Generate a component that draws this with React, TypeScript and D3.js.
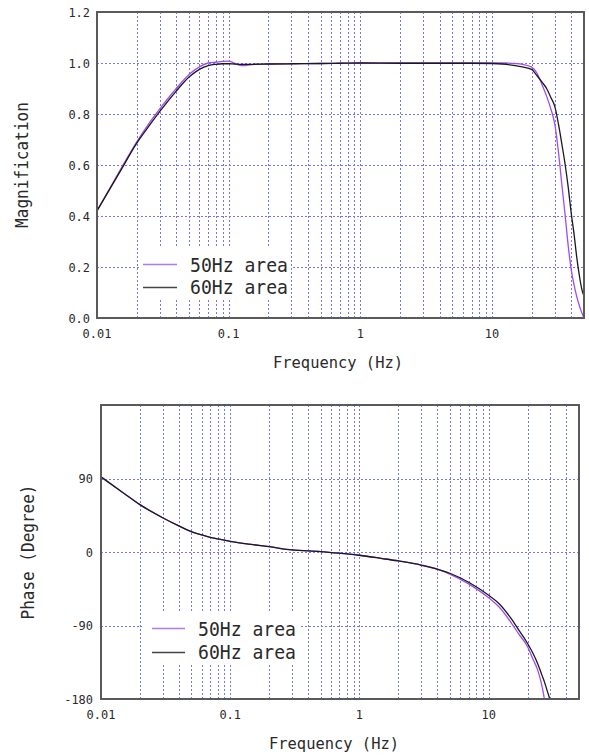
import React from "react";
import * as d3 from "d3";

const W = 589;
const H = 755;

// ---- Magnification chart data ----
const magFreq = [0.01, 0.015, 0.02, 0.025, 0.03, 0.04, 0.05, 0.06, 0.07, 0.08, 0.09, 0.1, 0.11, 0.12, 0.13, 0.15, 0.2, 0.3, 0.5, 0.7, 1, 2, 3, 5, 7, 10, 12, 15, 17, 20, 22, 24, 26, 28, 30, 32, 34, 36, 38, 40, 42, 44, 46, 48, 50];
const mag50 = [0.42, 0.58, 0.69, 0.765, 0.82, 0.9, 0.955, 0.985, 1.0, 1.003, 1.006, 1.007, 1.0, 0.992, 0.99, 0.994, 0.996, 0.997, 0.998, 0.999, 1.0, 1.0, 1.0, 1.0, 1.0, 1.0, 1.0, 0.998, 0.995, 0.984, 0.96, 0.915, 0.87, 0.82, 0.76, 0.65, 0.52, 0.4, 0.28, 0.19, 0.13, 0.085, 0.05, 0.022, 0.0];
const mag60 = [0.42, 0.575, 0.685, 0.755, 0.81, 0.89, 0.945, 0.975, 0.99, 0.995, 0.997, 0.997, 0.996, 0.995, 0.995, 0.995, 0.996, 0.997, 0.998, 0.999, 1.0, 0.999, 0.999, 0.999, 0.999, 0.998, 0.996, 0.99, 0.985, 0.975, 0.95, 0.925, 0.9, 0.865, 0.83, 0.76, 0.68, 0.6, 0.51, 0.41, 0.33, 0.24, 0.17, 0.115, 0.085];
const magTicks = [0, 0.2, 0.4, 0.6, 0.8, 1.0, 1.2];
const magTickLabels = ["0.0", "0.2", "0.4", "0.6", "0.8", "1.0", "1.2"];

// ---- Phase chart data ----
const phaseFreq = [0.01, 0.015, 0.02, 0.03, 0.04, 0.05, 0.06, 0.07, 0.08, 0.1, 0.15, 0.2, 0.3, 0.5, 0.7, 1, 1.5, 2, 3, 4, 5, 7, 10, 12, 15, 17, 20, 22, 24, 26, 27, 28, 29.7];
const phase60 = [92, 72, 58, 42, 32, 25, 21, 18, 16, 13, 9, 6.5, 2.5, 0.5, -1.5, -4, -8, -11, -16, -21, -26, -37, -53, -63, -82, -95, -112, -124, -137, -152, -159, -167, -180];
const phase50: (number | null)[] = [92, 72, 58, 42, 32, 25, 21, 18, 16, 13, 9, 6.5, 2.5, 0.5, -1.5, -4, -8, -11, -16, -21, -27, -39, -56, -67, -87, -100, -116, -131, -145, -166, -180, null, null];
const phaseTicks = [-180, -90, 0, 90];
const phaseTickLabels = ["-180", "-90", "0", "90"];

// ---- shared ----
const freqTicks = [0.01, 0.1, 1, 10];
const freqTickLabels = ["0.01", "0.1", "1", "10"];
const seriesNames = ["50Hz area", "60Hz area"];
const seriesColors = ["#a04cf2", "#1a1a1a"];
const legendColors = ["#b27af0", "#444444"];

const FONT = "'DejaVu Sans Mono', monospace";
const GRID = "#7474ff";
const FRAME = "#5a5a5a";
const snap = (v: number) => Math.round(v) + 0.5;

type T = { x: number; y: number; s: string; size: number; w: number; anchor?: string; rot?: boolean; fill?: string };
function Txt({ x, y, s, size, w, anchor = "start", rot = false, fill = "#2a2a2a" }: T) {
  return (
    <text
      x={rot ? 0 : x}
      y={rot ? 0 : y}
      transform={rot ? `translate(${x},${y}) rotate(-90)` : undefined}
      fontFamily={FONT}
      fontSize={size}
      textAnchor={anchor}
      textLength={w}
      lengthAdjust="spacingAndGlyphs"
      fill={fill}
    >
      {s}
    </text>
  );
}

function Chart(props: {
  id: string;
  left: number; right: number; top: number; bottom: number;
  yDomain: [number, number];
  yTicks: number[]; yLabels: string[];
  freqs: number[];
  s50: (number | null)[]; s60: (number | null)[];
  yTitle: string; yTitleX: number; yTitleLen: number;
  xTitleX: number;
  legend: { x0: number; x1: number; textX: number; y1: number; y2: number; box: [number, number, number, number] };
  yLabelRight: number;
}) {
  const { left, right, top, bottom } = props;
  const x = d3.scaleLog().domain([0.01, 50]).range([left, right]);
  const y = d3.scaleLinear().domain(props.yDomain).range([bottom, top]);
  const gridX = x.ticks().filter((f) => f > 0.0100001 && f < 49.99);
  const gridY = props.yTicks.filter((v) => v > props.yDomain[0] && v < props.yDomain[1]);
  const line = d3
    .line<[number, number | null]>()
    .defined((d) => d[1] !== null)
    .x((d) => x(d[0]))
    .y((d) => y(d[1] as number))
    .curve(d3.curveMonotoneX);
  const d50 = line(props.freqs.map((f, i) => [f, props.s50[i]] as [number, number | null])) || "";
  const d60 = line(props.freqs.map((f, i) => [f, props.s60[i]] as [number, number | null])) || "";
  const lg = props.legend;
  return (
    <g>
      <defs>
        <clipPath id={props.id}>
          <rect x={left} y={top} width={right - left} height={bottom - top} />
        </clipPath>
      </defs>
      {gridX.map((f, i) => (
        <line key={"gx" + i} x1={snap(x(f))} x2={snap(x(f))} y1={top} y2={bottom} stroke={GRID} strokeWidth={1} strokeDasharray="2 2" />
      ))}
      {gridY.map((v, i) => (
        <line key={"gy" + i} x1={left} x2={right} y1={snap(y(v))} y2={snap(y(v))} stroke={GRID} strokeWidth={1} strokeDasharray="2 2" />
      ))}
      <rect x={lg.box[0]} y={lg.box[1]} width={lg.box[2] - lg.box[0]} height={lg.box[3] - lg.box[1]} fill="#fff" />
      <g clipPath={`url(#${props.id})`}>
        <path d={d50} fill="none" stroke={seriesColors[0]} strokeWidth={1.3} />
        <path d={d60} fill="none" stroke={seriesColors[1]} strokeWidth={1.3} />
      </g>
      <rect x={left} y={top} width={right - left} height={bottom - top} fill="none" stroke={FRAME} strokeWidth={2} />
      {/* legend */}
      <line x1={lg.x0} x2={lg.x1} y1={snap(lg.y1)} y2={snap(lg.y1)} stroke={legendColors[0]} strokeWidth={1.5} />
      <line x1={lg.x0} x2={lg.x1} y1={snap(lg.y2)} y2={snap(lg.y2)} stroke={legendColors[1]} strokeWidth={1.5} />
      <Txt x={lg.textX} y={lg.y1 + 7.5} s={seriesNames[0]} size={20} w={98} />
      <Txt x={lg.textX} y={lg.y2 + 6.5} s={seriesNames[1]} size={20} w={98} />
      {/* y ticks */}
      {props.yTicks.map((v, i) => (
        <Txt key={"yt" + i} x={props.yLabelRight} y={y(v) + 4.5} s={props.yLabels[i]} size={13} w={props.yLabels[i].length * 7.2} anchor="end" />
      ))}
      {/* x ticks */}
      {freqTicks.map((f, i) => (
        <Txt key={"xt" + i} x={x(f)} y={bottom + 20} s={freqTickLabels[i]} size={13} w={freqTickLabels[i].length * 7.2} anchor="middle" />
      ))}
      <Txt x={props.xTitleX} y={bottom + 50} s="Frequency (Hz)" size={16} w={130} anchor="middle" />
      <Txt x={props.yTitleX} y={(top + bottom) / 2} s={props.yTitle} size={17} w={props.yTitleLen} anchor="middle" rot />
    </g>
  );
}

export default function App() {
  return (
    <svg width={W} height={H} style={{ position: "absolute", left: 0, top: 0, background: "#fff" }}>
      <rect x={0} y={0} width={W} height={H} fill="#fff" />
      <Chart
        id="clipMag"
        left={97} right={584} top={12} bottom={318}
        yDomain={[0, 1.2]}
        yTicks={magTicks} yLabels={magTickLabels}
        freqs={magFreq} s50={mag50} s60={mag60}
        yTitle="Magnification" yTitleX={28} yTitleLen={126}
        xTitleX={338}
        yLabelRight={90}
        legend={{ x0: 143, x1: 177, textX: 190, y1: 264, y2: 287, box: [140, 248, 291, 298] }}
      />
      <Chart
        id="clipPhase"
        left={101} right={579} top={405} bottom={699}
        yDomain={[-180, 180]}
        yTicks={phaseTicks} yLabels={phaseTickLabels}
        freqs={phaseFreq} s50={phase50} s60={phase60}
        yTitle="Phase (Degree)" yTitleX={34} yTitleLen={135}
        xTitleX={334}
        yLabelRight={93}
        legend={{ x0: 152, x1: 185, textX: 198, y1: 628, y2: 652, box: [142, 612, 300, 665] }}
      />
    </svg>
  );
}
